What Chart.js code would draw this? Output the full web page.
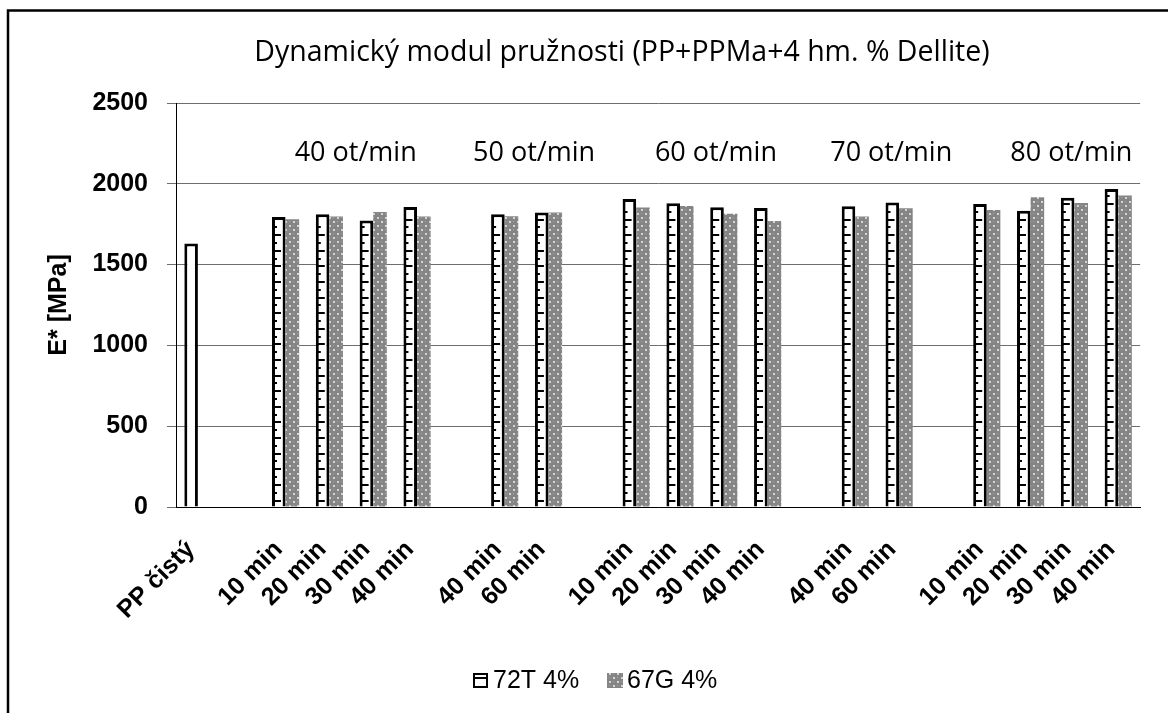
<!DOCTYPE html>
<html>
<head>
<meta charset="utf-8">
<script src="https://cdn.jsdelivr.net/npm/chart.js@4.4.1/dist/chart.umd.min.js"></script>
<style>
  html, body { margin: 0; padding: 0; background: #ffffff; }
  canvas { display: block; }
</style>
</head>
<body>
<canvas id="chart" width="1168" height="713"></canvas>
<script>
// Categories along the x axis (empty strings separate the rotor-speed groups)
const categories = [
  'PP čistý', '',
  '10 min', '20 min', '30 min', '40 min', '',
  '40 min', '60 min', '',
  '10 min', '20 min', '30 min', '40 min', '',
  '40 min', '60 min', '',
  '10 min', '20 min', '30 min', '40 min'
];

// Dynamic modulus E* [MPa]
const series72T = [
  1630, null,
  1794, 1811, 1773, 1856, null,
  1811, 1823, null,
  1906, 1879, 1855, 1850, null,
  1861, 1885, null,
  1875, 1834, 1914, 1968
];
const series67G = [
  null, null,
  1780, 1797, 1825, 1797, null,
  1799, 1823, null,
  1853, 1862, 1815, 1770, null,
  1797, 1849, null,
  1838, 1917, 1881, 1927
];

const seriesNames = ['72T 4%', '67G 4%'];
const speedLabels = ['40 ot/min', '50 ot/min', '60 ot/min', '70 ot/min', '80 ot/min'];
const speedLabelAt = [3.6, 7.67, 11.82, 15.82, 19.93];   // x positions in category units
const yTicks = [0, 500, 1000, 1500, 2000, 2500];
const chartTitle = 'Dynamický modul pružnosti (PP+PPMa+4 hm. % Dellite)';
const yTitle = 'E* [MPa]';

const canvas = document.getElementById('chart');
const ctx = canvas.getContext('2d');

// Grey fill with a staggered grid of light dots
function dottedFill() {
  const t = document.createElement('canvas');
  t.width = 8; t.height = 8;
  const g = t.getContext('2d');
  g.fillStyle = '#858585';
  g.fillRect(0, 0, 8, 8);
  g.fillStyle = '#d4d4d4';
  g.fillRect(1, 1, 2, 2);
  g.fillRect(5, 5, 2, 2);
  g.fillStyle = '#a8a8a8';
  g.fillRect(5, 1, 1, 1);
  g.fillRect(1, 5, 1, 1);
  return ctx.createPattern(t, 'repeat');
}
const greyDots = dottedFill();

const decorations = {
  id: 'decorations',
  beforeDraw(chart) {
    const c = chart.ctx;
    c.save();
    c.fillStyle = '#ffffff';
    c.fillRect(0, 0, chart.width, chart.height);
    c.restore();
  },
  afterDatasetDraw(chart, args) {
    if (args.index !== 0) return;
    const c = chart.ctx;
    c.save();
    c.strokeStyle = '#000000';
    c.lineWidth = 2;
    args.meta.data.forEach((bar, i) => {
      if (series72T[i] == null || series67G[i] == null) return;
      const p = bar.getProps(['x', 'y', 'base', 'width'], true);
      const left = p.x - p.width / 2;
      let k = 0;
      for (let y = p.base - 6; y > p.y + 6; y -= 7.8, k++) {
        const len = k % 2 === 0 ? 7 : 3;
        const yy = Math.round(y);
        c.beginPath();
        c.moveTo(left + 2, yy);
        c.lineTo(left + 2 + len, yy);
        c.stroke();
      }
    });
    c.restore();
  },
  afterDraw(chart) {
    const c = chart.ctx;
    const xs = chart.scales.x;
    c.save();
    c.fillStyle = '#000000';
    c.textBaseline = 'alphabetic';

    // title
    c.font = '28.5px "Open Sans"';
    c.textAlign = 'center';
    c.fillText(chartTitle, 622, 61);

    // rotor speed group labels
    c.font = '27px "Open Sans"';
    speedLabels.forEach((s, i) => {
      c.fillText(s, xs.getPixelForValue(speedLabelAt[i]), 161);
    });

    // legend
    c.font = '25px "Liberation Sans", Arial, sans-serif';
    c.textAlign = 'left';
    let lx = 473;
    const boxY = 673, box = 15;
    // 72T icon
    c.fillStyle = '#ffffff';
    c.fillRect(lx, boxY, box, box);
    c.strokeStyle = '#000000';
    c.lineWidth = 2;
    c.strokeRect(lx + 1, boxY + 1, box - 2, box - 2);
    c.beginPath();
    c.moveTo(lx + 2, boxY + 5);
    c.lineTo(lx + box - 2, boxY + 5);
    c.stroke();
    c.fillStyle = '#000000';
    c.fillText(seriesNames[0], lx + box + 5, 688);
    // 67G icon
    lx = 607;
    c.fillStyle = greyDots;
    c.fillRect(lx, boxY, box + 1, box);
    c.fillStyle = '#000000';
    c.fillText(seriesNames[1], lx + box + 5, 688);

    // outer frame (top and left edges)
    c.strokeStyle = '#000000';
    c.lineWidth = 2.5;
    c.beginPath();
    c.moveTo(8, chart.height);
    c.lineTo(8, 10.5);
    c.lineTo(chart.width, 10.5);
    c.stroke();
    c.restore();
  }
};

new Chart(canvas, {
  type: 'bar',
  data: {
    labels: categories,
    datasets: [
      {
        label: seriesNames[0],
        data: series72T,
        backgroundColor: '#ffffff',
        borderColor: '#000000',
        borderWidth: 3,
        borderSkipped: 'start'
      },
      {
        label: seriesNames[1],
        data: series67G,
        backgroundColor: greyDots,
        borderWidth: 0
      }
    ]
  },
  options: {
    responsive: false,
    animation: false,
    devicePixelRatio: 1,
    layout: { padding: { left: 0, right: 24, top: 103, bottom: 0 } },
    datasets: {
      bar: { categoryPercentage: 0.62, barPercentage: 1.0 }
    },
    plugins: {
      legend: { display: false },
      title: { display: false },
      tooltip: { enabled: false }
    },
    scales: {
      x: {
        grid: { display: false, drawTicks: false },
        border: { display: true, color: '#000000', width: 1 },
        ticks: {
          autoSkip: false,
          maxRotation: 45,
          minRotation: 45,
          padding: 28,
          labelOffset: -7,
          color: '#000000',
          font: { family: '"Liberation Sans", Arial, sans-serif', size: 25, weight: 'bold' }
        },
        afterFit(scale) { scale.height = 206; }
      },
      y: {
        min: 0,
        max: 2500,
        afterBuildTicks(scale) { scale.ticks = yTicks.map(v => ({ value: v })); },
        grid: { color: '#6e6e6e', lineWidth: 1, tickLength: 9 },
        border: { display: true, color: '#000000', width: 1 },
        ticks: {
          padding: 19,
          color: '#000000',
          callback: (v) => String(v),
          font: { family: '"Liberation Sans", Arial, sans-serif', size: 25, weight: 'bold' }
        },
        title: {
          display: true,
          text: yTitle,
          color: '#000000',
          padding: { top: 44, bottom: 0 },
          font: { family: '"Liberation Sans", Arial, sans-serif', size: 25, weight: 'bold' }
        },
        afterFit(scale) { scale.width = 176; }
      }
    }
  },
  plugins: [decorations]
});
</script>
</body>
</html>
